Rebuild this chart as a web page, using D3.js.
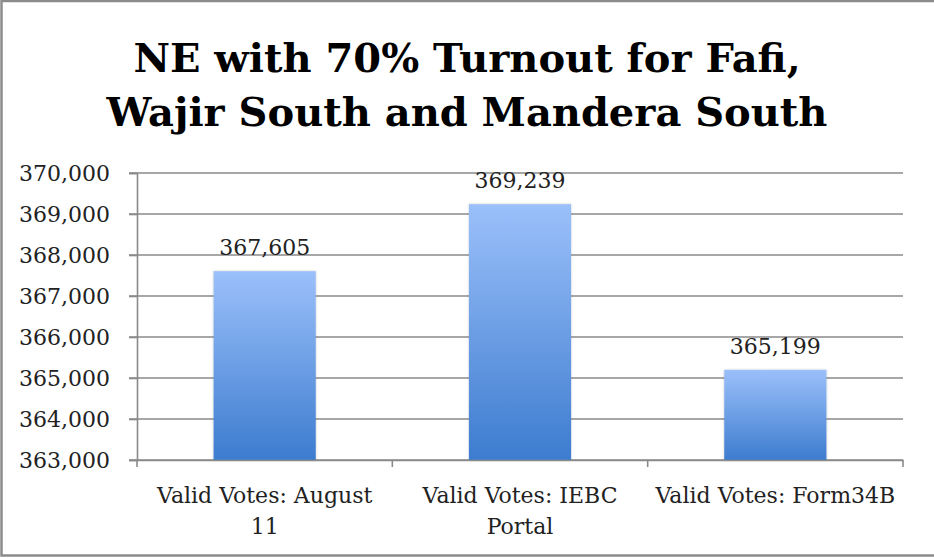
<!DOCTYPE html>
<html><head><meta charset="utf-8">
<script src="https://cdn.jsdelivr.net/npm/d3@7"></script>
<style>html,body{margin:0;padding:0;background:#fff;overflow:hidden}</style>
</head><body>
<svg id="c" width="934" height="558"></svg>
<script>
const categories = [["Valid Votes: August", "11"], ["Valid Votes: IEBC", "Portal"], ["Valid Votes: Form34B"]];
const values = [367605, 369239, 365199];
const yTicks = [363000, 364000, 365000, 366000, 367000, 368000, 369000, 370000];
const titleLines = ["NE with 70% Turnout for Fafi,", "Wajir South and Mandera South"];

(function(){
const svg = d3.select("#c");
const serif = "'DejaVu Serif', serif";
svg.append("rect").attr("x",1.5).attr("y",1).attr("width",940).attr("height",554.5)
  .attr("fill","#fff").attr("stroke","#8c8c8c").attr("stroke-width",2.5);

const defs = svg.append("defs");
const g = defs.append("linearGradient").attr("id","bg").attr("x1",0).attr("x2",0).attr("y1",0).attr("y2",1);
g.append("stop").attr("offset","0%").attr("stop-color","#9bc0fa");
g.append("stop").attr("offset","100%").attr("stop-color","#3d7ccf");
const f = defs.append("filter").attr("id","sh").attr("x","-10%").attr("y","-10%").attr("width","120%").attr("height","120%");
f.append("feDropShadow").attr("dx",0).attr("dy",0).attr("stdDeviation",1.2).attr("flood-color","#000").attr("flood-opacity",0.25);

const pL = 137, pR = 903, pT = 173, pB = 460;
const x = d3.scaleBand().domain(categories.map((d,i)=>i)).range([pL,pR]).paddingInner(0).paddingOuter(0);
const y = d3.scaleLinear().domain([363000,370000]).range([pB,pT]);

svg.append("g").selectAll("line").data(yTicks).join("line")
  .attr("x1",pL-8).attr("x2",pR).attr("y1",d=>y(d)).attr("y2",d=>y(d))
  .attr("stroke","#8a8a8a").attr("stroke-width",1.6);

const yAxis = svg.append("g").attr("transform",`translate(${pL},0)`)
  .call(d3.axisLeft(y).tickValues(yTicks).tickFormat(d3.format(",")).tickSize(8).tickPadding(10));
yAxis.select(".domain").attr("stroke","#8a8a8a").attr("stroke-width",1.6);
yAxis.selectAll(".tick line").attr("stroke","#8a8a8a").attr("stroke-width",1.6);
yAxis.selectAll("text").attr("font-family",serif).attr("font-size",22).attr("fill","#222").attr("dx",-9);

const bw = x.bandwidth()*0.4;
svg.append("g").selectAll("rect").data(values).join("rect")
  .attr("x",(d,i)=>x(i)+x.bandwidth()/2-bw/2).attr("width",bw)
  .attr("y",d=>y(d)).attr("height",d=>pB-y(d))
  .attr("fill","url(#bg)").attr("filter","url(#sh)");

const xAxis = svg.append("g").attr("transform",`translate(0,${pB})`)
  .call(d3.axisBottom(x).tickValues([]).tickSizeOuter(0));
xAxis.select(".domain").attr("stroke","#8a8a8a").attr("stroke-width",1.6);
const bounds = [0,1,2,3].map(i=> pL + i*x.step());
svg.append("g").selectAll("line").data(bounds).join("line")
  .attr("x1",d=>d).attr("x2",d=>d).attr("y1",pB).attr("y2",pB+7)
  .attr("stroke","#8a8a8a").attr("stroke-width",1.6);

categories.forEach((lines,i)=>{
  const t = svg.append("text").attr("x",x(i)+x.bandwidth()/2).attr("y",pB+43)
    .attr("text-anchor","middle").attr("font-family",serif).attr("font-size",22).attr("fill","#222");
  lines.forEach((l,j)=>t.append("tspan").attr("x",x(i)+x.bandwidth()/2).attr("dy",j?31:0).text(l));
});

svg.append("g").selectAll("text").data(values).join("text")
  .attr("x",(d,i)=>x(i)+x.bandwidth()/2).attr("y",d=>y(d)-16)
  .attr("text-anchor","middle").attr("font-family",serif).attr("font-size",22).attr("fill","#222")
  .text(d=>d3.format(",")(d));

const tt = svg.append("text").attr("text-anchor","middle").attr("font-family",serif)
  .attr("font-weight","bold").attr("font-size",40).attr("fill","#000");
titleLines.forEach((l,j)=>tt.append("tspan").attr("x",467).attr("y",72+j*54).text(l));
})();
</script>
</body></html>
